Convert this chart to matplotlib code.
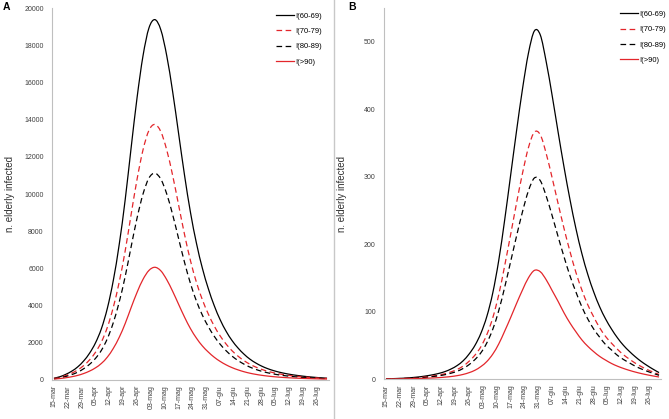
import numpy as np
import matplotlib
matplotlib.use("Agg")
import matplotlib.pyplot as plt
from matplotlib.lines import Line2D
from matplotlib.path import Path
from matplotlib.patches import PathPatch

plt.rcParams['font.family'] = ['Liberation Sans', 'DejaVu Sans']

# giorni dal 15-mar, un valore ogni 3 giorni
days = np.arange(0, 139, 3)

week_labels = ["15-mar", "22-mar", "29-mar", "05-apr", "12-apr", "19-apr", "26-apr",
               "03-mag", "10-mag", "17-mag", "24-mag", "31-mag", "07-giu", "14-giu",
               "21-giu", "28-giu", "05-lug", "12-lug", "19-lug", "26-lug"]

series_names = ["I(60-69)", "I(70-79)", "I(80-89)", "I(>90)"]

# Pannello A
a_60_69 = [70, 150, 280, 450, 680, 1000, 1420, 1980, 2750, 3850,
           5350, 7300, 9700, 12500, 15200, 17450, 18950, 19400, 18850, 17450,
           15500, 13250, 11000, 9000, 7350, 6000, 4900, 3980, 3220, 2600,
           2100, 1700, 1370, 1100, 890, 720, 585, 478, 392, 322,
           265, 218, 178, 144, 115, 90, 70]
a_70_79 = [55, 115, 215, 345, 515, 750, 1060, 1470, 2030, 2820,
           3900, 5270, 6940, 8900, 10800, 12380, 13430, 13750, 13360, 12370,
           10990, 9400, 7810, 6400, 5240, 4300, 3530, 2880, 2350, 1910,
           1550, 1260, 1020, 825, 670, 545, 445, 365, 300, 248,
           205, 170, 140, 113, 90, 71, 55]
a_80_89 = [42, 88, 165, 265, 395, 580, 820, 1140, 1580, 2210,
           3070, 4190, 5560, 7160, 8710, 10000, 10860, 11120, 10800, 10000,
           8880, 7590, 6310, 5170, 4230, 3470, 2850, 2330, 1900, 1550,
           1260, 1025, 830, 670, 545, 443, 362, 297, 244, 201,
           166, 137, 112, 91, 73, 57, 45]
a_90 = [25, 52, 95, 150, 222, 322, 455, 630, 870, 1210,
        1680, 2280, 3020, 3880, 4700, 5400, 5880, 6050, 5860, 5380,
        4750, 4050, 3360, 2740, 2230, 1810, 1480, 1200, 975, 790,
        640, 520, 420, 340, 277, 226, 185, 152, 125, 103,
        85, 70, 58, 47, 38, 30, 24]

# Pannello B
b_60_69 = [0.3, 0.5, 0.8, 1.2, 1.8, 2.6, 3.6, 4.9, 6.5, 8.5,
           11.2, 15, 20, 27, 37, 50, 68, 93, 128, 176,
           236, 302, 368, 430, 483, 516, 510, 470, 420, 366,
           314, 266, 223, 186, 155, 129, 107, 89, 74, 61,
           50, 41, 33, 26, 20, 14.5, 9.5]
b_70_79 = [0.2, 0.35, 0.57, 0.85, 1.3, 1.85, 2.6, 3.5, 4.6, 6,
           8, 10.7, 14.2, 19.2, 26.3, 35.5, 48, 66, 91, 125,
           168, 214, 261, 305, 343, 366, 362, 334, 298, 260,
           223, 189, 158, 132, 110, 92, 76, 63, 53, 44,
           36, 29.5, 23.5, 18.5, 14, 10.3, 6.8]
b_80_89 = [0.17, 0.29, 0.46, 0.7, 1.04, 1.5, 2.1, 2.8, 3.75, 4.9,
           6.5, 8.7, 11.5, 15.6, 21.3, 28.9, 39, 53.7, 73.9, 101.5,
           136, 174, 212, 248, 279, 298, 294, 271, 242, 211,
           181, 153, 129, 107, 89, 74, 62, 51, 43, 35,
           29, 24, 19, 15, 11.5, 8.4, 5.5]
b_90 = [0.08, 0.13, 0.2, 0.3, 0.45, 0.65, 0.9, 1.2, 1.6, 2.1,
        2.8, 3.7, 5, 6.8, 9.4, 13, 18.5, 26, 37, 52,
        71, 91, 112, 132, 150, 161, 159, 147, 131, 115,
        98, 83, 70, 58, 48.5, 40.5, 33.5, 28, 23, 19,
        15.7, 12.8, 10.3, 8.1, 6.2, 4.5, 3]

red = '#e3262b'
dash = (0, (4.5, 2.8))
styles = [dict(color='black', linestyle='-'),
          dict(color=red, linestyle=dash),
          dict(color='black', linestyle=dash),
          dict(color=red, linestyle='-')]


def smooth_line(ax, x, y, **kw):
    # linea "smussata" come in Excel (Catmull-Rom -> Bezier cubiche)
    p = np.column_stack([x, y]).astype(float)
    pp = np.vstack([p[0], p, p[-1]])
    verts = [p[0]]
    codes = [Path.MOVETO]
    for i in range(len(p) - 1):
        p0, p1, p2, p3 = pp[i], pp[i + 1], pp[i + 2], pp[i + 3]
        verts += [p1 + (p2 - p0) / 6, p2 - (p3 - p1) / 6, p2]
        codes += [Path.CURVE4] * 3
    ax.add_patch(PathPatch(Path(verts, codes), fill=False, **kw))


W, H = 669, 419
fig = plt.figure(figsize=(W / 100, H / 100), dpi=100)
axA = fig.add_axes([52 / W, 39.5 / H, 277 / W, 371 / H])
axB = fig.add_axes([384 / W, 40 / H, 277 / W, 371 / H])

panels = [(axA, [a_60_69, a_70_79, a_80_89, a_90], 20000, 2000, 'A', 3 / W, (0.809, 0.99)),
          (axB, [b_60_69, b_70_79, b_80_89, b_90], 550, 100, 'B', 348 / W, (0.852, 0.993))]

for ax, data, ymax, ystep, letter, lx, leg_pos in panels:
    handles = []
    for vals, name, st in zip(data, series_names, styles):
        smooth_line(ax, days, vals, lw=0.9, **st)
        handles.append(Line2D([], [], lw=0.9, label=name, **st))
    ax.set_xlim(-1, 139)
    ax.set_ylim(0, ymax)
    ax.set_yticks(np.arange(0, ymax + 1, ystep))
    ax.set_xticks(np.arange(0, 139, 7))
    ax.set_xticklabels(week_labels, rotation=90)
    ax.tick_params(axis='both', length=0, labelsize=5, colors='#404040')
    ax.tick_params(axis='y', pad=6)
    ax.tick_params(axis='x', pad=4)
    for s in ['top', 'right']:
        ax.spines[s].set_visible(False)
    for s in ['left', 'bottom']:
        ax.spines[s].set_color('#bfbfbf')
        ax.spines[s].set_linewidth(0.8)
    ax.set_ylabel("n. elderly infected", fontsize=7, color='#303030')
    ax.yaxis.set_label_coords(-0.135, 0.5)
    ax.legend(handles=handles, loc='upper left', bbox_to_anchor=leg_pos, frameon=False,
              fontsize=5.5, handlelength=2.3, handletextpad=0.2, labelspacing=1.05,
              borderpad=0, borderaxespad=0)
    fig.text(lx, 1 - 7 / H, letter, fontsize=7.5, fontweight='bold', va='center', ha='left')

# separatore tra i pannelli
fig.add_artist(Line2D([334 / W, 334 / W], [0, 1], color='#c8c8c8', lw=1))

fig.savefig("out.png", dpi=100, facecolor='white')
